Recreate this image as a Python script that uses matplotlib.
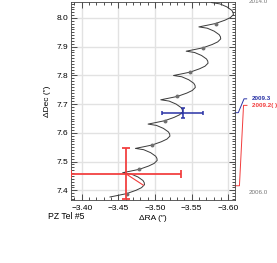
import matplotlib
matplotlib.use("Agg")
import matplotlib.pyplot as plt
from matplotlib.ticker import MultipleLocator

plt.rcParams['font.family'] = ['Liberation Sans', 'DejaVu Sans']

# модельная траектория (параллакс + собственное движение), 2006.0 -> 2014.0
curve_ra = [
    -3.4386, -3.4496, -3.4614, -3.4741, -3.4816, -3.4857, -3.4853, -3.4836, -3.4768, -3.4673,
    -3.4559, -3.4669, -3.4787, -3.4914, -3.4989, -3.5030, -3.5026, -3.5009, -3.4941, -3.4846,
    -3.4733, -3.4843, -3.4961, -3.5088, -3.5163, -3.5204, -3.5200, -3.5183, -3.5115, -3.5020,
    -3.4906, -3.5016, -3.5134, -3.5261, -3.5336, -3.5377, -3.5373, -3.5356, -3.5288, -3.5193,
    -3.5079, -3.5189, -3.5307, -3.5434, -3.5509, -3.5550, -3.5546, -3.5529, -3.5461, -3.5366,
    -3.5253, -3.5363, -3.5481, -3.5608, -3.5683, -3.5724, -3.5720, -3.5703, -3.5635, -3.5540,
    -3.5426, -3.5536, -3.5654, -3.5781, -3.5856, -3.5897, -3.5893, -3.5876, -3.5808, -3.5713,
    -3.5599, -3.5709, -3.5827, -3.5954, -3.6029, -3.6070, -3.6066, -3.6049, -3.5981, -3.5886,
    -3.5772,
]
curve_dec = [
    7.3767, 7.3823, 7.3885, 7.4000, 7.4091, 7.4195, 7.4268, 7.4342, 7.4464, 7.4568,
    7.4613, 7.4669, 7.4731, 7.4846, 7.4937, 7.5041, 7.5114, 7.5188, 7.5310, 7.5414,
    7.5459, 7.5515, 7.5577, 7.5692, 7.5783, 7.5887, 7.5960, 7.6034, 7.6156, 7.6260,
    7.6306, 7.6362, 7.6424, 7.6539, 7.6630, 7.6734, 7.6807, 7.6881, 7.7003, 7.7107,
    7.7152, 7.7208, 7.7270, 7.7385, 7.7476, 7.7580, 7.7653, 7.7727, 7.7849, 7.7953,
    7.7998, 7.8054, 7.8116, 7.8231, 7.8322, 7.8426, 7.8499, 7.8573, 7.8695, 7.8799,
    7.8844, 7.8900, 7.8962, 7.9077, 7.9168, 7.9272, 7.9345, 7.9419, 7.9541, 7.9645,
    7.9690, 7.9746, 7.9808, 7.9923, 8.0014, 8.0118, 8.0191, 8.0265, 8.0387, 8.0491,
    8.0537,
]

# годовые отметки на кривой
year_ra = [-3.4614, -3.4787, -3.4961, -3.5134, -3.5307, -3.5481, -3.5654, -3.5827]
year_dec = [7.3885, 7.4731, 7.5577, 7.6424, 7.7270, 7.8116, 7.8962, 7.9808]

# наблюдения
obs_labels = ['2009.3', '2009.2( )']
obs_colors = ['#2a33a6', '#f23c3c']
obs_ra = [-3.5376, -3.460]
obs_dec = [7.668, 7.458]
obs_ra_err = [0.0275, 0.075]
obs_dec_err = [0.017, 0.09]
model_ra = [-3.537, -3.484]
model_dec = [7.666, 7.418]

start_end = ['2006.0', '2014.0']


def main():
    fig = plt.figure(figsize=(2.77, 2.63), dpi=100)
    ax = fig.add_axes([0.2563, 0.2395, 0.5921, 0.7529])

    ax.plot(curve_ra, curve_dec, color='#3a3a3a', lw=0.7, zorder=3)
    ax.plot(year_ra, year_dec, 'o', color='#707070', ms=1.8, zorder=4)

    # синяя точка
    ax.plot([obs_ra[0], model_ra[0]], [obs_dec[0], model_dec[0]], color=obs_colors[0], lw=0.8, zorder=5)
    ax.errorbar(obs_ra[0], obs_dec[0], xerr=obs_ra_err[0], yerr=obs_dec_err[0],
                color=obs_colors[0], lw=1.1, capsize=1.6, capthick=1.1, zorder=6)
    # красная точка
    ax.plot([obs_ra[1], model_ra[1]], [obs_dec[1], model_dec[1]], color=obs_colors[1], lw=0.8, zorder=5)
    ax.errorbar(obs_ra[1], obs_dec[1], xerr=obs_ra_err[1], yerr=obs_dec_err[1],
                color=obs_colors[1], lw=1.4, capsize=2.6, capthick=1.4, alpha=0.9, zorder=6)

    ax.set_xlim(-3.3854, -3.6092)
    ax.set_ylim(7.3662, 8.0557)
    ax.xaxis.set_major_locator(MultipleLocator(0.05))
    ax.xaxis.set_minor_locator(MultipleLocator(0.01))
    ax.yaxis.set_major_locator(MultipleLocator(0.1))
    ax.yaxis.set_minor_locator(MultipleLocator(0.01))
    ax.xaxis.set_major_formatter(lambda v, p: f"{v:.2f}".replace('-', '\u2212'))
    ax.yaxis.set_major_formatter(lambda v, p: f"{v:.1f}")
    ax.tick_params(which='both', direction='in', top=True, right=True,
                   color='#333333', width=0.6, labelsize=6)
    ax.tick_params(which='major', length=4)
    ax.tick_params(which='minor', length=2)
    ax.tick_params(axis='x', pad=3.5)
    ax.tick_params(axis='y', pad=2)
    ax.grid(True, which='major', color='#e2e2e2', lw=1.0, zorder=0)
    ax.set_axisbelow(True)
    for s in ax.spines.values():
        s.set_linewidth(0.6)
        s.set_color('#444444')

    ax.set_xlabel("\u0394RA (\u2033)", fontsize=6, labelpad=2)
    ax.set_ylabel("\u0394Dec (\u2033)", fontsize=6, labelpad=4)
    fig.text(0.173, 0.158, "PZ Tel #5", fontsize=6.2, ha='left', va='bottom')

    # подписи эпох справа от графика
    tr = ax.transAxes
    ax.plot([1.0, 1.020, 1.055, 1.071], [0.441, 0.441, 0.511, 0.511],
            color=obs_colors[0], lw=0.7, transform=tr, clip_on=False)
    ax.plot([1.0, 1.027, 1.052, 1.073], [0.072, 0.072, 0.478, 0.478],
            color=obs_colors[1], lw=0.7, transform=tr, clip_on=False)
    ax.text(1.104, 0.512, obs_labels[0], color=obs_colors[0], fontsize=4.5,
            ha='left', va='center', transform=tr, fontweight='bold')
    ax.text(1.104, 0.478, obs_labels[1], color=obs_colors[1], fontsize=4.5,
            ha='left', va='center', transform=tr, fontweight='bold')
    ax.text(1.085, 0.04, start_end[0], color='#777777', fontsize=4.5,
            ha='left', va='center', transform=tr)
    ax.text(1.085, 1.0, start_end[1], color='#777777', fontsize=4.5,
            ha='left', va='center', transform=tr)

    fig.savefig("out.png", dpi=100)


if __name__ == "__main__":
    main()
